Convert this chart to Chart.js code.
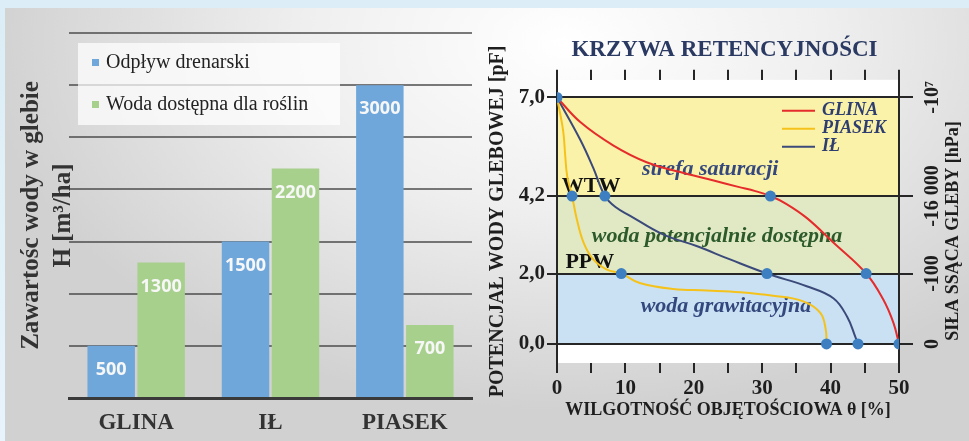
<!DOCTYPE html>
<html lang="pl">
<head>
<meta charset="utf-8">
<title>Zawartość wody w glebie i krzywa retencyjności</title>
<script src="https://cdn.jsdelivr.net/npm/chart.js@4.4.1/dist/chart.umd.min.js"></script>
<style>
  html, body { margin: 0; padding: 0; }
  body {
    width: 969px; height: 441px; overflow: hidden; position: relative;
    background: linear-gradient(180deg, #dcedf7 0%, #e8f4fb 100%);
  }
  #panel {
    position: absolute; left: 5px; top: 8px; width: 964px; height: 433px;
    background: radial-gradient(ellipse 60% 85% at 58% 8%, #ffffff 0%, #efefef 45%, #d1d1d1 100%);
  }
  #bars { position: absolute; left: 0; top: 0; }
  #curves { position: absolute; left: 480px; top: 0; }
</style>
</head>
<body>
<div id="panel"></div>
<canvas id="bars" width="480" height="441"></canvas>
<canvas id="curves" width="489" height="441"></canvas>
<script>
// ---- left chart data ----
const SOIL_TYPES = ['GLINA', 'IŁ', 'PIASEK'];
const DRAINAGE = [500, 1500, 3000];
const AVAILABLE = [1300, 2200, 700];
const BAR_SERIES = ['Odpływ drenarski', 'Woda dostępna dla roślin'];

// ---- right chart data (theta = % objętości, pF) ----
const GLINA_THETA = [0, 3.4, 8.2, 13.1, 18, 22.9, 26.5, 29, 31.2, 33.5, 36.5, 40.4, 45.2, 47.7, 49.2, 50];
const GLINA_PF    = [7, 6.3, 5.64, 5.16, 4.88, 4.64, 4.46, 4.34, 4.2, 3.98, 3.58, 2.88, 2.0, 1.26, 0.59, 0];
const PIASEK_THETA = [0, 0.9, 1.2, 1.5, 2.2, 2.9, 3.9, 5.3, 7.3, 9.4, 12.1, 17, 21.9, 26.8, 31.6, 36, 38.5, 39.3, 39.4];
const PIASEK_PF    = [7, 6.05, 5.35, 4.75, 4.2, 3.54, 2.87, 2.4, 2.11, 2.0, 1.73, 1.56, 1.52, 1.47, 1.37, 1.21, 0.88, 0.4, 0];
const IL_THETA = [0, 3.4, 5.3, 7.0, 8.6, 10.7, 15.5, 20.4, 25.3, 30.7, 36.5, 40.4, 42.4, 43.6, 44.0];
const IL_PF    = [7, 5.8, 5.0, 4.2, 3.88, 3.64, 3.11, 2.78, 2.4, 2.0, 1.64, 1.3, 0.78, 0.21, 0];
const MARKER_THETA = [0, 2.2, 7.0, 31.2, 9.4, 30.7, 45.2, 39.4, 44.0, 50];
const MARKER_PF    = [7, 4.2, 4.2, 4.2, 2.0, 2.0, 2.0, 0, 0, 0];

const PF_TICKS = [0, 2, 4.2, 7];
const SUCTION_LABELS = ['0', '-100', '-16 000', '-10⁷'];
const ZONE_LIMITS = [[0, 2], [2, 4.2], [4.2, 7]];
const ZONE_NAMES = ['woda grawitacyjna', 'woda potencjalnie dostępna', 'strefa saturacji'];
const LIMIT_NAMES = ['PPW', 'WTW'];

const SERIF = "'Liberation Serif', 'Times New Roman', serif";
const NAVY = '#2d3d70';

Chart.defaults.color = '#222';
Chart.defaults.animation = false;

// where the zone / limit captions sit (data coordinates)
const ZONE_LABEL_AT = [{ x: 24.7, y: 1.06 }, { x: 23.4, y: 3.06 }, { x: 22.4, y: 4.97 }];
const ZONE_LABEL_COLORS = ['#34487e', '#2d5a2b', '#34487e'];
const LIMIT_LABEL_AT = [{ x: 4.8, y: 2.31 }, { x: 5.0, y: 4.49 }];

function toPoints(xs, ys) {
    return xs.map((x, i) => ({ x: x, y: ys[i] }));
}

// ---------------- bar chart ----------------
const barValueLabels = {
    id: 'barValueLabels',
    afterDatasetsDraw(chart) {
        const ctx = chart.ctx;
        ctx.save();
        ctx.font = "bold 18px 'Open Sans', 'DejaVu Sans', sans-serif";
        ctx.fillStyle = '#f7f7f7';
        ctx.textAlign = 'center';
        ctx.textBaseline = 'middle';
        chart.data.datasets.forEach((ds, i) => {
            chart.getDatasetMeta(i).data.forEach((bar, j) => {
                ctx.fillText(String(ds.data[j]), bar.x, bar.y + 24);
            });
        });
        ctx.restore();
    }
};

const boxedLegend = {
    id: 'boxedLegend',
    afterDraw(chart) {
        const { ctx, chartArea } = chart;
        const left = chartArea.left + 9;
        const top = chartArea.top + 10;
        ctx.save();
        ctx.fillStyle = 'rgba(255,255,255,0.72)';
        ctx.fillRect(left, top, 262, 82);
        ctx.font = '20px ' + SERIF;
        ctx.textBaseline = 'middle';
        chart.data.datasets.forEach((ds, i) => {
            const y = top + 20 + i * 42;
            ctx.fillStyle = ds.backgroundColor;
            ctx.fillRect(left + 14, y - 4, 7, 7);
            ctx.fillStyle = '#222';
            ctx.fillText(ds.label, left + 28, y);
        });
        ctx.restore();
    }
};

new Chart(document.getElementById('bars'), {
    type: 'bar',
    data: {
        labels: SOIL_TYPES,
        datasets: [
            { label: BAR_SERIES[0], data: DRAINAGE, backgroundColor: '#6fa7db' },
            { label: BAR_SERIES[1], data: AVAILABLE, backgroundColor: '#a8d08d' }
        ]
    },
    options: {
        responsive: false,
        devicePixelRatio: 1,
        layout: { padding: { top: 33, right: 8 } },
        categoryPercentage: 0.744,
        barPercentage: 0.95,
        plugins: { legend: { display: false }, tooltip: { enabled: false } },
        scales: {
            x: {
                grid: { display: false, drawTicks: false },
                border: { display: true, width: 3, color: '#3a3a3a' },
                ticks: { font: { family: SERIF, size: 23, weight: 'bold' }, color: '#333', padding: 11 },
                afterFit: s => { s.height = 43; }
            },
            y: {
                min: 0, max: 3500,
                ticks: { display: false, stepSize: 500 },
                grid: { color: 'rgba(70,70,70,0.72)', lineWidth: 2, drawTicks: false },
                border: { display: false },
                title: {
                    display: true,
                    text: ['Zawartośc wody w glebie', 'H [m³/ha]'],
                    font: { family: SERIF, size: 25, weight: 'bold', lineHeight: 1.3 },
                    color: '#333',
                    padding: { top: 15 }
                },
                afterFit: s => { s.width = 69; }
            }
        }
    },
    plugins: [barValueLabels, boxedLegend]
});

// ---------------- retention curves ----------------
const zoneBands = {
    id: 'zoneBands',
    beforeDraw(chart) {
        const { ctx, chartArea, scales: { y } } = chart;
        const colors = ['#c9e1f2', '#e0e9c4', '#fbf2a9'];
        ctx.save();
        ctx.fillStyle = '#ffffff';
        ctx.fillRect(chartArea.left, chartArea.top, chartArea.width, chartArea.height);
        ZONE_LIMITS.forEach((z, i) => {
            const top = y.getPixelForValue(z[1]);
            const bottom = y.getPixelForValue(z[0]);
            ctx.fillStyle = colors[i];
            ctx.fillRect(chartArea.left, top, chartArea.width, bottom - top);
        });
        ctx.restore();
    }
};

const zoneCaptions = {
    id: 'zoneCaptions',
    beforeDatasetsDraw(chart) {
        const { ctx, scales: { x, y } } = chart;
        ctx.save();
        ctx.textAlign = 'center';
        ctx.textBaseline = 'middle';
        ctx.font = 'italic bold 22px ' + SERIF;
        ZONE_NAMES.forEach((name, i) => {
            ctx.fillStyle = ZONE_LABEL_COLORS[i];
            ctx.fillText(name, x.getPixelForValue(ZONE_LABEL_AT[i].x), y.getPixelForValue(ZONE_LABEL_AT[i].y));
        });
        ctx.font = 'bold 22px ' + SERIF;
        ctx.fillStyle = '#111';
        LIMIT_NAMES.forEach((name, i) => {
            ctx.fillText(name, x.getPixelForValue(LIMIT_LABEL_AT[i].x), y.getPixelForValue(LIMIT_LABEL_AT[i].y));
        });
        ctx.restore();
    }
};

const curveLegend = {
    id: 'curveLegend',
    afterDatasetsDraw(chart) {
        const { ctx, chartArea } = chart;
        const x0 = chartArea.right - 117;
        ctx.save();
        ctx.font = 'italic bold 18px ' + SERIF;
        ctx.textBaseline = 'middle';
        chart.data.datasets.filter(ds => ds.showInLegend).forEach((ds, i) => {
            const y = chartArea.top + 31 + i * 18;
            ctx.strokeStyle = ds.borderColor;
            ctx.lineWidth = 2;
            ctx.beginPath();
            ctx.moveTo(x0, y);
            ctx.lineTo(x0 + 33, y);
            ctx.stroke();
            ctx.fillStyle = NAVY;
            ctx.fillText(ds.label, x0 + 40, y);
        });
        ctx.restore();
    }
};

const suctionAxis = {
    id: 'suctionAxis',
    afterDraw(chart) {
        const { ctx, scales: { y2 } } = chart;
        ctx.save();
        ctx.fillStyle = '#1e1e1e';
        ctx.textAlign = 'center';
        ctx.textBaseline = 'middle';
        ctx.font = 'bold 20px ' + SERIF;
        y2.ticks.forEach((t, i) => {
            ctx.save();
            ctx.translate(y2.left + 34, y2.getPixelForValue(t.value));
            ctx.rotate(-Math.PI / 2);
            ctx.fillText(SUCTION_LABELS[i], 0, 0);
            ctx.restore();
        });
        ctx.translate(y2.left + 54, 231);
        ctx.rotate(-Math.PI / 2);
        ctx.font = 'bold 18px ' + SERIF;
        ctx.fillText('SIŁA SSĄCA GLEBY [hPa]', 0, 0);
        ctx.restore();
    }
};

const pfTicks = s => { s.ticks = PF_TICKS.map(v => ({ value: v })); };
const tickFont = { family: SERIF, size: 21, weight: 'bold' };
const axisLine = '#262626';

new Chart(document.getElementById('curves'), {
    type: 'line',
    data: {
        datasets: [
            { label: 'punkty', data: toPoints(MARKER_THETA, MARKER_PF), showLine: false,
              pointRadius: 5.5, pointBackgroundColor: '#3d7fc1', pointBorderWidth: 0, order: 0 },
            { label: 'GLINA', data: toPoints(GLINA_THETA, GLINA_PF), borderColor: '#e52b2b', showInLegend: true },
            { label: 'PIASEK', data: toPoints(PIASEK_THETA, PIASEK_PF), borderColor: '#f5c21b', showInLegend: true },
            { label: 'IŁ', data: toPoints(IL_THETA, IL_PF), borderColor: '#3b4a7a', showInLegend: true }
        ]
    },
    options: {
        responsive: false,
        devicePixelRatio: 1,
        layout: { padding: 0 },
        datasets: {
            line: { borderWidth: 2, pointRadius: 0, tension: 0.4, order: 1 }
        },
        plugins: {
            legend: { display: false },
            tooltip: { enabled: false },
            title: {
                display: true,
                text: 'KRZYWA RETENCYJNOŚCI',
                color: '#2a3a62',
                font: { family: SERIF, size: 23, weight: 'bold', lineHeight: 1.2 },
                padding: { top: 36, bottom: 0 }
            }
        },
        scales: {
            x: {
                type: 'linear', position: 'bottom', min: 0, max: 50,
                ticks: { stepSize: 5, autoSkip: false, maxRotation: 0, font: tickFont, color: '#1e1e1e', padding: 3,
                         callback: v => (v % 10 === 0 ? v : '') },
                grid: { drawOnChartArea: false, tickLength: 10, color: axisLine, lineWidth: 2 },
                border: { display: false },
                title: { display: true, text: 'WILGOTNOŚĆ OBJĘTOŚCIOWA θ [%]', color: '#1e1e1e',
                         font: { family: SERIF, size: 18, weight: 'bold', lineHeight: 1.2 }, padding: { top: 0, bottom: 20 } },
                afterFit: s => { s.height = 78; }
            },
            x2: {
                type: 'linear', position: 'top', min: 0, max: 50,
                ticks: { display: false, stepSize: 5 },
                grid: { drawOnChartArea: false, tickLength: 10, color: axisLine, lineWidth: 2 },
                border: { display: false },
                afterFit: s => { s.height = 16.2; }
            },
            y: {
                type: 'linear', position: 'left', min: -0.54, max: 7.5,
                afterBuildTicks: pfTicks,
                ticks: { font: tickFont, color: '#1e1e1e', padding: 2, callback: v => v.toFixed(1).replace('.', ',') },
                grid: { color: axisLine, lineWidth: 2, tickLength: 10 },
                border: { display: true, color: axisLine, width: 2 },
                title: { display: true, text: 'POTENCJAŁ WODY GLEBOWEJ [pF]', color: '#1e1e1e',
                         font: { family: SERIF, size: 20, weight: 'bold', lineHeight: 1.2 }, padding: { top: 6 } },
                afterFit: s => { s.width = 77; }
            },
            y2: {
                type: 'linear', position: 'right', min: -0.54, max: 7.5,
                afterBuildTicks: pfTicks,
                ticks: { display: false },
                grid: { drawOnChartArea: false, color: axisLine, lineWidth: 2, tickLength: 14 },
                border: { display: true, color: axisLine, width: 2 },
                afterFit: s => { s.width = 70; }
            }
        }
    },
    plugins: [zoneBands, zoneCaptions, curveLegend, suctionAxis]
});
</script>
</body>
</html>
